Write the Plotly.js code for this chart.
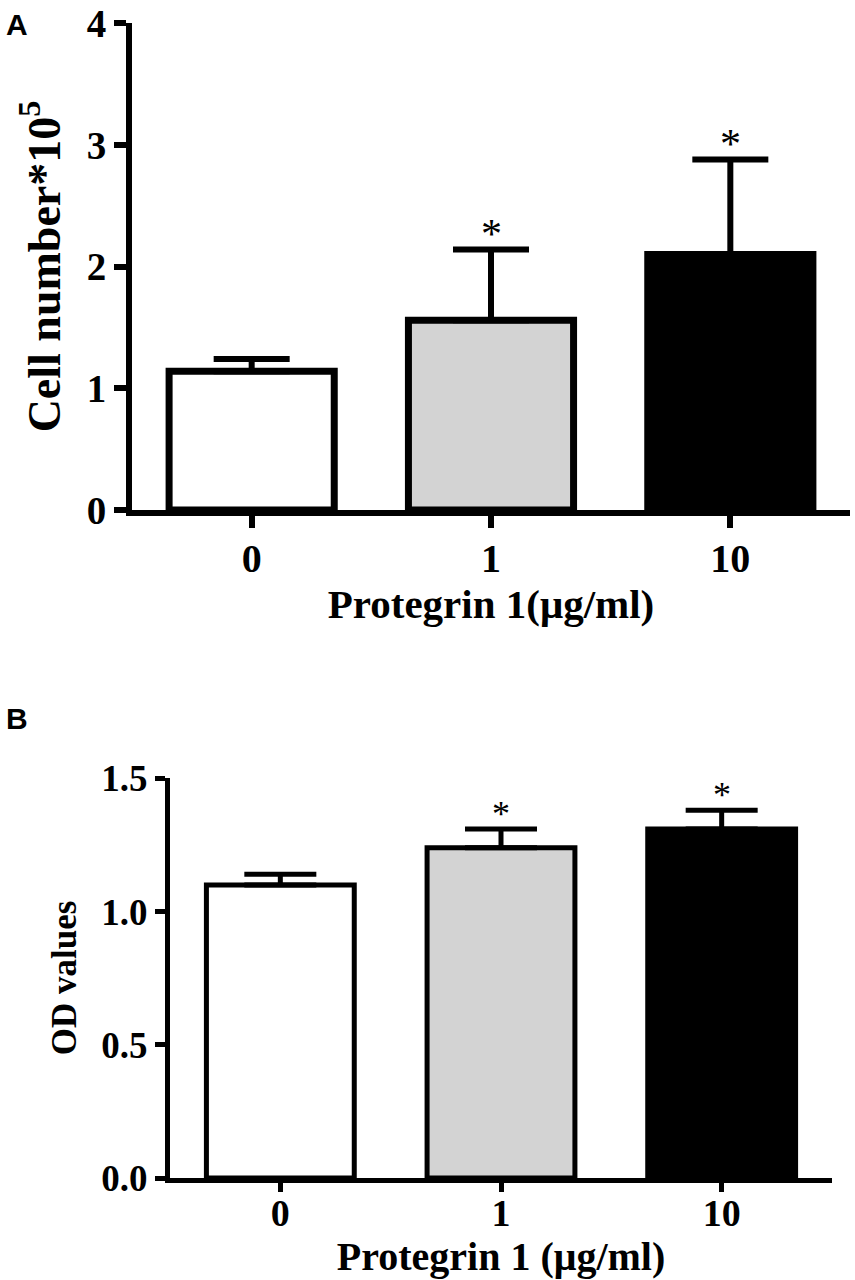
<!DOCTYPE html>
<html>
<head>
<meta charset="utf-8">
<script src="https://cdn.plot.ly/plotly-3.0.1.min.js"></script>
<style>html,body{margin:0;padding:0;background:#fff;}#chart{width:855px;height:1280px;}</style>
</head>
<body>
<div id="chart"></div>
<script>
// ---- data ----
const categories = ["0", "1", "10"];
const cellNumber = [1.14, 1.56, 2.10];
const cellNumberErr = [0.10, 0.58, 0.78];
const odValues = [1.10, 1.24, 1.31];
const odErr = [0.04, 0.07, 0.07];
const significance = ["", "*", "*"];
const yTicksA = [0, 1, 2, 3, 4];
const yTicksB = [0, 0.5, 1.0, 1.5];
const yTickTextB = ["0.0", "0.5", "1.0", "1.5"];

// ---- styles ----
const W = 855, H = 1280;
const barColors = ["#ffffff", "#d3d3d3", "#000000"];
const serif = "Liberation Serif, Times New Roman, serif";

const traceA = {
  type: "bar", x: categories, y: cellNumber, xaxis: "x", yaxis: "y",
  width: 0.69,
  marker: {color: barColors, line: {color: "#000", width: 7}},
  error_y: {type: "data", array: cellNumberErr, arrayminus: cellNumberErr.map(() => 0),
            symmetric: false, color: "#000", thickness: 6, width: 38},
  hoverinfo: "none", showlegend: false
};
const traceB = {
  type: "bar", x: categories, y: odValues, xaxis: "x2", yaxis: "y2",
  width: 0.67,
  marker: {color: barColors, line: {color: "#000", width: 5}},
  error_y: {type: "data", array: odErr, arrayminus: odErr.map(() => 0),
            symmetric: false, color: "#000", thickness: 5, width: 36},
  hoverinfo: "none", showlegend: false
};

const annotations = [];
categories.forEach((c, i) => {
  if (significance[i]) {
    annotations.push({xref: "x", yref: "y", x: i, y: cellNumber[i] + cellNumberErr[i],
      text: significance[i], showarrow: false, yanchor: "bottom", yshift: -9,
      font: {family: serif, size: 42, color: "#000"}});
    annotations.push({xref: "x2", yref: "y2", x: i, y: odValues[i] + odErr[i],
      text: significance[i], showarrow: false, yanchor: "bottom", yshift: -7,
      font: {family: serif, size: 36, color: "#000"}});
  }
});
annotations.push({xref: "paper", yref: "paper", x: 4 / W, y: 1 - 6 / H, xanchor: "left", yanchor: "top",
  text: "<b>A</b>", showarrow: false, font: {family: "Liberation Sans, Arial, sans-serif", size: 30, color: "#000"}});
annotations.push({xref: "paper", yref: "paper", x: 4 / W, y: 1 - 700 / H, xanchor: "left", yanchor: "top",
  text: "<b>B</b>", showarrow: false, font: {family: "Liberation Sans, Arial, sans-serif", size: 30, color: "#000"}});

const axisCommon = {
  showgrid: false, zeroline: false, showline: true, linecolor: "#000",
  ticks: "outside", tickcolor: "#000", fixedrange: true, ticklabeloverflow: "allow"
};

const layout = {
  width: W, height: H,
  margin: {l: 0, r: 0, t: 0, b: 0},
  paper_bgcolor: "#fff", plot_bgcolor: "rgba(0,0,0,0)",
  xaxis: Object.assign({}, axisCommon, {
    anchor: "y", domain: [132 / W, 850 / W], type: "category", range: [-0.5, 2.5],
    linewidth: 6, ticklen: 12, tickwidth: 6, ticklabelstandoff: -4,
    tickfont: {family: serif, size: 40, color: "#000", weight: 700},
    title: {text: "Protegrin 1(μg/ml)", standoff: 0, font: {family: serif, size: 41, color: "#000", weight: 700}}
  }),
  yaxis: Object.assign({}, axisCommon, {
    anchor: "x", domain: [1 - 510 / H, 1 - 23 / H], range: [0, 4.002],
    tickvals: yTicksA, ticktext: yTicksA.map(String),
    linewidth: 6, ticklen: 12, tickwidth: 6,
    tickfont: {family: serif, size: 39, color: "#000", weight: 700},
    title: {text: "Cell number*10<sup>5</sup>", standoff: 14, font: {family: serif, size: 46, color: "#000", weight: 700}}
  }),
  xaxis2: Object.assign({}, axisCommon, {
    anchor: "y2", domain: [170 / W, 832 / W], type: "category", range: [-0.5, 2.5],
    linewidth: 5, ticklen: 9, tickwidth: 5, ticklabelstandoff: -12,
    tickfont: {family: serif, size: 38, color: "#000", weight: 700},
    title: {text: "Protegrin 1 (μg/ml)", standoff: 0, font: {family: serif, size: 40, color: "#000", weight: 700}}
  }),
  yaxis2: Object.assign({}, axisCommon, {
    anchor: "x2", domain: [1 - 1178 / H, 1 - 778 / H], range: [0, 1.5015],
    tickvals: yTicksB, ticktext: yTickTextB,
    linewidth: 5, ticklen: 10, tickwidth: 5,
    tickfont: {family: serif, size: 37, color: "#000", weight: 700},
    title: {text: "OD values", standoff: 16, font: {family: serif, size: 35, color: "#000", weight: 700}}
  }),
  annotations: annotations
};

Plotly.newPlot("chart", [traceA, traceB], layout, {displayModeBar: false, staticPlot: true});
</script>
</body>
</html>
